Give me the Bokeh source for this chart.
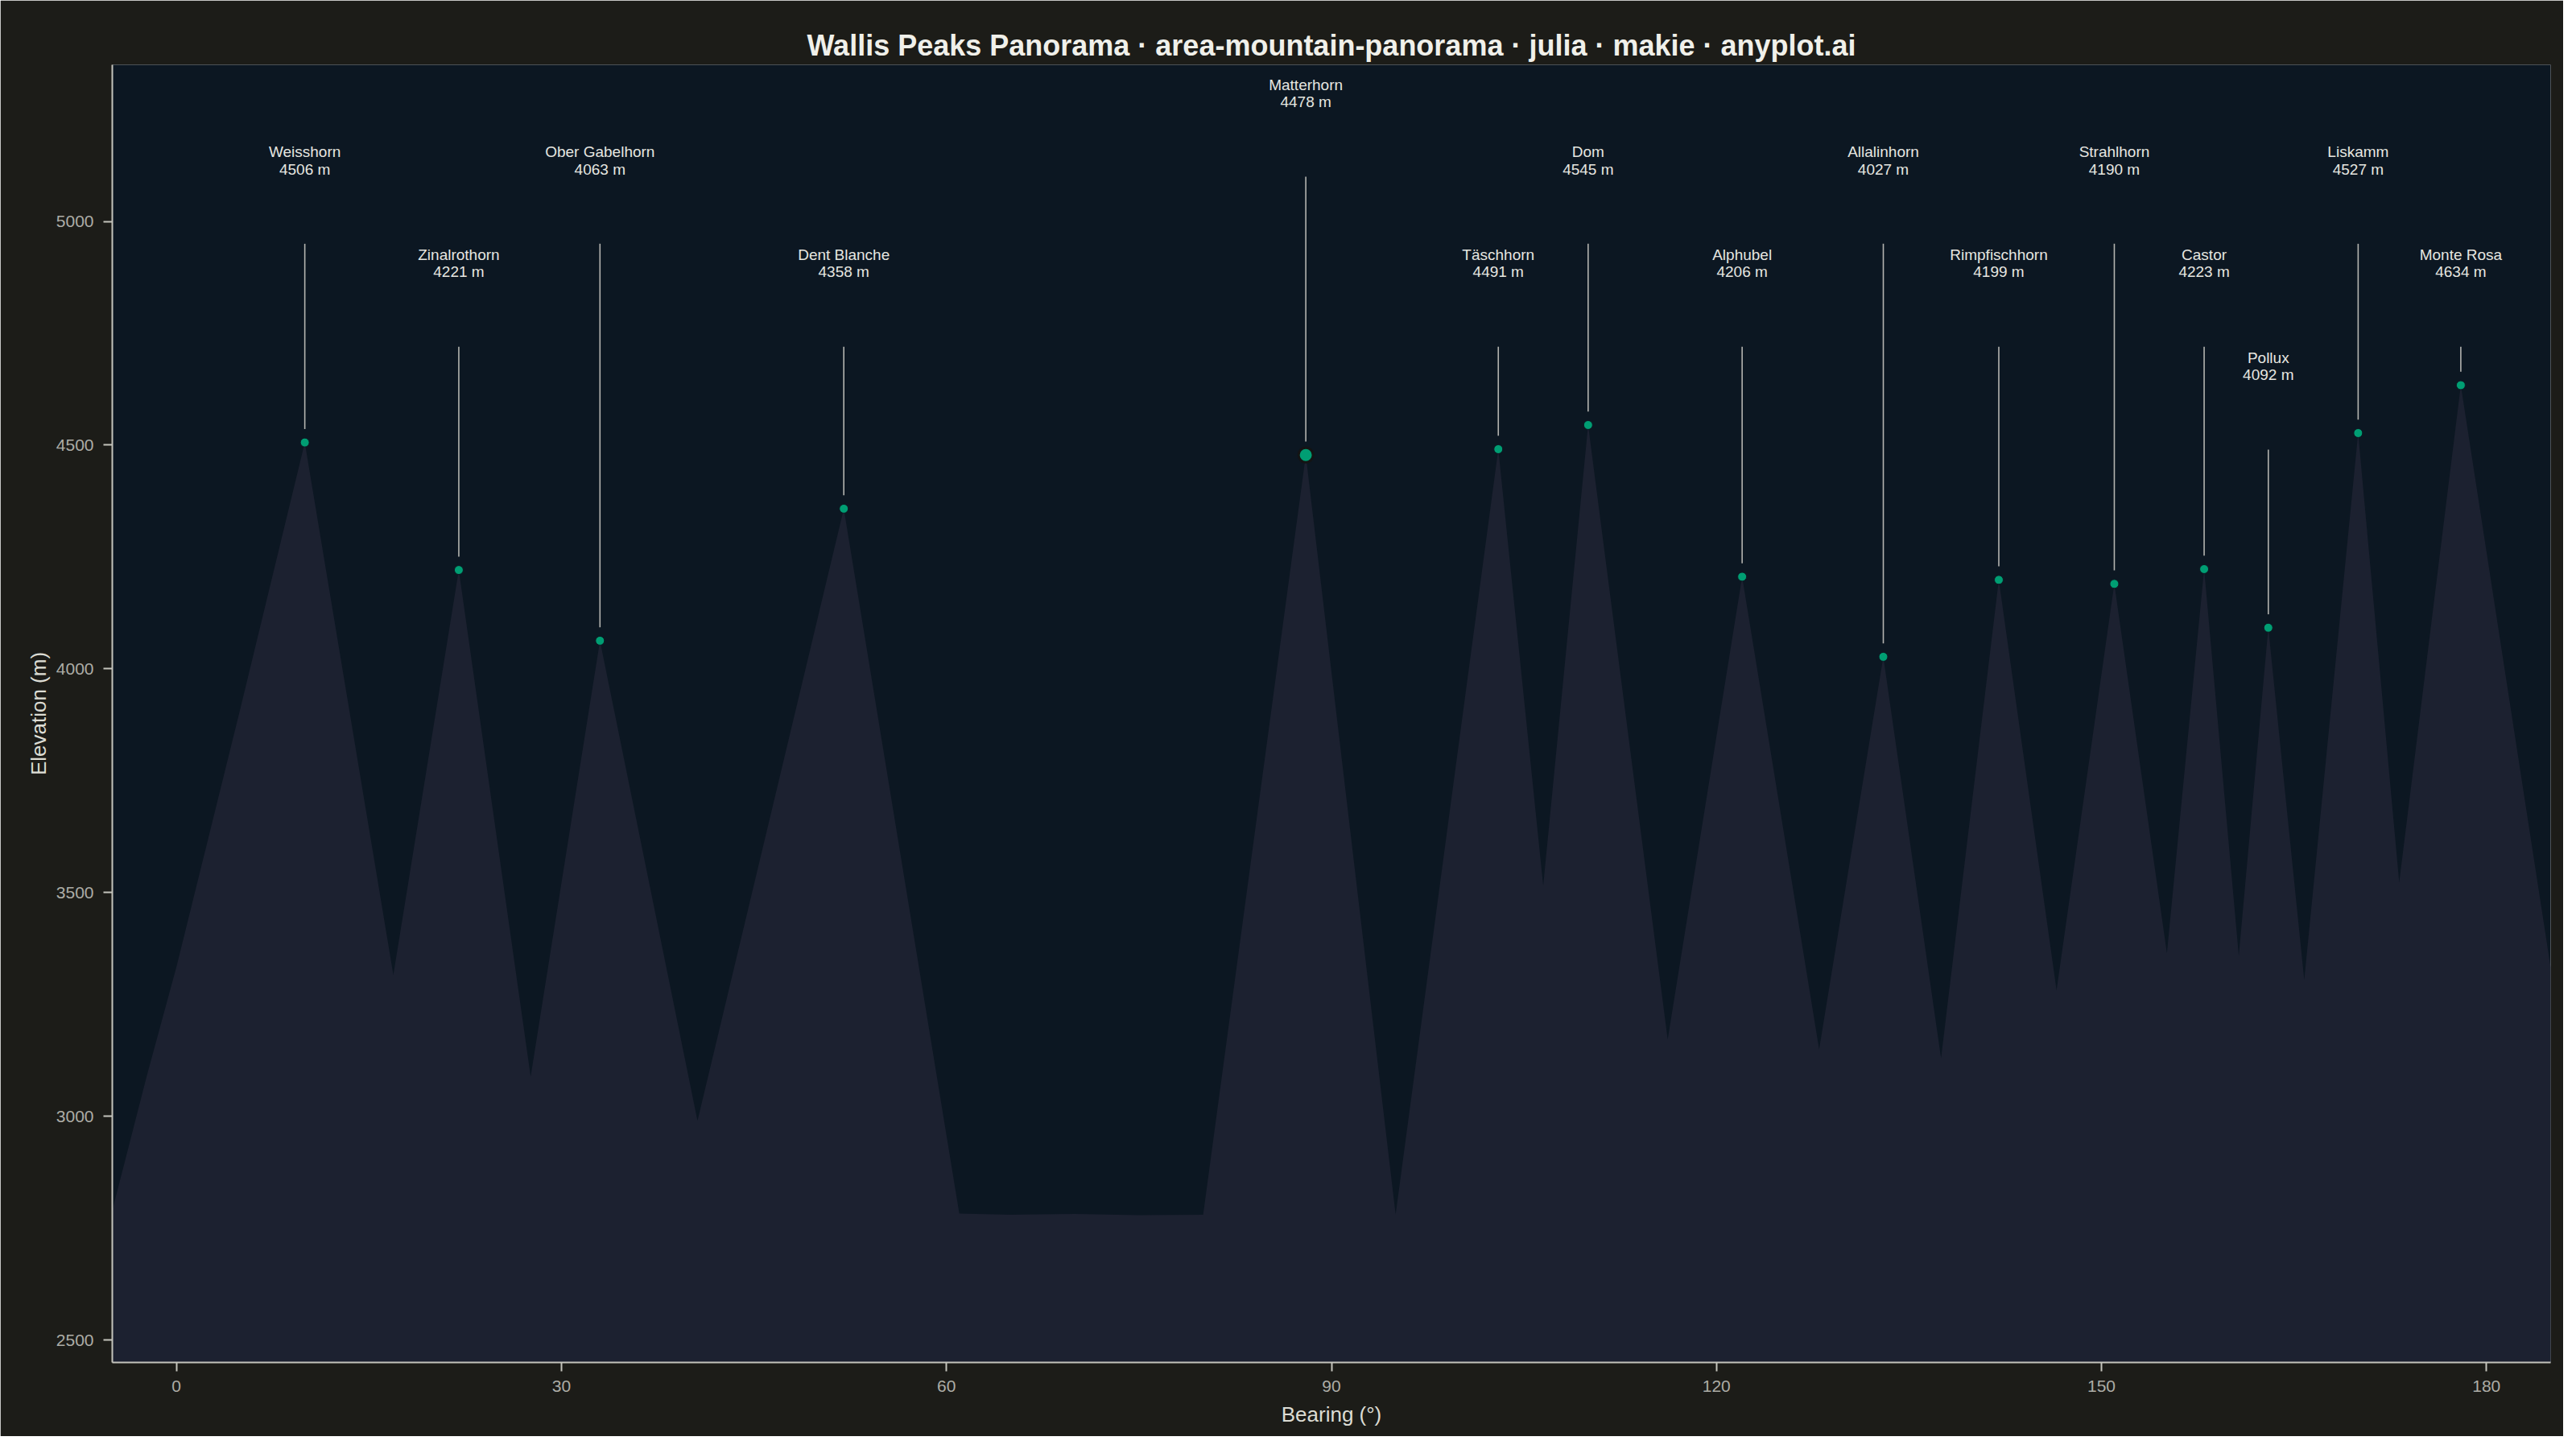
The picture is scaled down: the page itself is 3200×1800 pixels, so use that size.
from bokeh.plotting import figure
from bokeh.models import Range1d, FixedTicker, ColumnDataSource
from bokeh.embed import file_html
from bokeh.resources import INLINE
from bokeh.core.properties import value

# ---------------- data ----------------
peak_names = ["Weisshorn", "Zinalrothorn", "Ober Gabelhorn", "Dent Blanche", "Matterhorn",
              "Täschhorn", "Dom", "Alphubel", "Allalinhorn", "Rimpfischhorn",
              "Strahlhorn", "Castor", "Pollux", "Liskamm", "Monte Rosa"]
peak_bearing = [10, 22, 33, 52, 88, 103, 110, 122, 133, 142, 151, 158, 163, 170, 178]
peak_elev = [4506, 4221, 4063, 4358, 4478, 4491, 4545, 4206, 4027, 4199, 4190, 4223, 4092, 4527, 4634]
featured_peak = "Matterhorn"

# ridge silhouette vertices (bearing in degrees, elevation in m)
ridge_bearing = [-5, -2.3, 0, 5, 10, 16.9, 22, 27.6, 33, 40.6, 52, 61.0, 65, 70, 75, 80,
                 88, 95.0, 103, 106.5, 110, 116.2, 122, 128.0, 133, 137.5, 142, 146.5,
                 151, 155.1, 158, 160.7, 163, 165.8, 170, 173.2, 178, 185]
ridge_elev = [2790, 3092, 3334, 3914, 4506, 3316, 4221, 3089, 4063, 2990, 4358, 2783, 2780, 2782, 2779, 2780,
              4478, 2781, 4491, 3516, 4545, 3172, 4206, 3150, 4027, 3130, 4199, 3282,
              4190, 3365, 4223, 3359, 4092, 3305, 4527, 3523, 4634, 3333]

x_ticks = [0, 30, 60, 90, 120, 150, 180]
y_ticks = [2500, 3000, 3500, 4000, 4500, 5000]

# ---------------- layout / style ----------------
label_tier = [0, 1, 0, 1, 3, 1, 0, 1, 0, 1, 0, 1, 2, 0, 1]
tier_top = {0: 4950, 1: 4720, 2: 4490, 3: 5100}
LEADER_GAP = 30
NAME_OFF = 205
VALUE_OFF = 167

OUTER_BG = "#1c1c18"
PLOT_BG = "#0c1722"
MOUNTAIN = "#1c2130"
GREEN = "#009e73"
LEADER = "#b4b4b0"
TEXT = "#e6e6e0"
FONT = "Liberation Sans"

p = figure(width=3184, height=1784, output_backend="svg", toolbar_location=None,
           x_range=Range1d(-5, 185), y_range=Range1d(2450, 5350),
           min_border_left=139, min_border_right=16, min_border_top=80, min_border_bottom=92,
           title="Wallis Peaks Panorama · area-mountain-panorama · julia · makie · anyplot.ai")

p.background_fill_color = PLOT_BG
p.border_fill_color = OUTER_BG
p.outline_line_color = None
p.grid.grid_line_color = None

p.title.text_font = FONT
p.title.text_font_style = "bold"
p.title.text_font_size = "36px"
p.title.text_color = "#f0f0ea"
p.title.align = "center"
p.title.standoff = 8

for ax in (p.xaxis, p.yaxis):
    ax.axis_line_color = "#c4c4bc"
    ax.axis_line_width = 2
    ax.major_tick_line_color = "#c4c4bc"
    ax.major_tick_line_width = 2
    ax.major_tick_out = 11
    ax.major_tick_in = 0
    ax.minor_tick_line_color = None
    ax.major_label_text_font = FONT
    ax.major_label_text_font_size = "21px"
    ax.major_label_text_color = "#acaca6"
    ax.axis_label_text_font = FONT
    ax.axis_label_text_font_size = "26px"
    ax.axis_label_text_font_style = "normal"
    ax.axis_label_text_color = "#dcdcd4"

p.xaxis.major_label_standoff = 11
p.xaxis.axis_label_standoff = 10
p.yaxis.major_label_standoff = 12
p.yaxis.axis_label_standoff = 4

p.xaxis.axis_label = "Bearing (°)"
p.yaxis.axis_label = "Elevation (m)"
p.xaxis.ticker = FixedTicker(ticks=x_ticks)
p.yaxis.ticker = FixedTicker(ticks=y_ticks)

# mountain silhouette
ridge = ColumnDataSource(dict(x=ridge_bearing, top=ridge_elev, base=[2400] * len(ridge_bearing)))
p.varea(x="x", y1="base", y2="top", source=ridge, fill_color=MOUNTAIN)

# leader lines and labels
tops = [tier_top[t] for t in label_tier]
lab = ColumnDataSource(dict(
    x=peak_bearing,
    y0=[e + LEADER_GAP for e in peak_elev],
    y1=tops,
    yname=[t + NAME_OFF for t in tops],
    yval=[t + VALUE_OFF for t in tops],
    name=peak_names,
    val=[f"{e} m" for e in peak_elev],
))
p.segment(x0="x", y0="y0", x1="x", y1="y1", source=lab, line_color=LEADER, line_width=1.6)
p.text(x="x", y="yname", text="name", source=lab, text_align="center", text_baseline="middle",
       text_font=value(FONT), text_font_size="19px", text_color=TEXT)
p.text(x="x", y="yval", text="val", source=lab, text_align="center", text_baseline="middle",
       text_font=value(FONT), text_font_size="19px", text_color=TEXT)

# peak markers
reg = [i for i, n in enumerate(peak_names) if n != featured_peak]
fea = [i for i, n in enumerate(peak_names) if n == featured_peak]
p.scatter(x=[peak_bearing[i] for i in reg], y=[peak_elev[i] for i in reg], size=11,
          fill_color=GREEN, line_color=PLOT_BG, line_width=1)
p.scatter(x=[peak_bearing[i] for i in fea], y=[peak_elev[i] for i in fea], size=18,
          fill_color=GREEN, line_color="#141414", line_width=3)

open("out.html", "w").write(file_html(p, INLINE))
